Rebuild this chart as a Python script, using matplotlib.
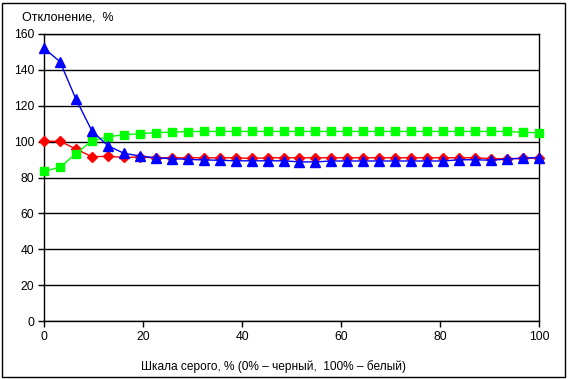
import numpy as np
import matplotlib
matplotlib.use("Agg")
import matplotlib.pyplot as plt

plt.rcParams['font.family'] = ['Liberation Sans', 'DejaVu Sans']

# шкала серого, 32 точки от 0 до 100 %
gray = np.linspace(0, 100, 32)

red_vals = [100.2, 100.2, 95.9, 91.6, 91.8, 91.2, 91.4, 91.0, 91.0, 91.0, 91.0,
            91.0, 91.0, 90.6, 91.0, 91.0, 91.0, 91.0, 91.0, 91.0, 91.0, 91.0,
            91.0, 91.0, 91.0, 91.0, 91.0, 91.0, 90.5, 90.5, 90.6, 90.9]
green_vals = [83.5, 85.7, 93.3, 100.5, 102.7, 103.8, 104.4, 105.0, 105.3, 105.6, 105.7,
              105.7, 105.7, 105.7, 105.7, 105.7, 105.7, 105.7, 105.7, 105.7, 105.7, 105.7,
              105.7, 105.7, 105.7, 105.7, 105.7, 105.7, 105.7, 105.7, 105.2, 104.9]
blue_vals = [152.0, 144.6, 123.7, 106.0, 97.7, 93.5, 92.0, 91.0, 90.5, 90.1, 89.8,
             89.6, 89.3, 89.3, 89.3, 89.3, 88.7, 88.7, 89.2, 89.2, 89.2, 89.2,
             89.2, 89.2, 89.2, 89.2, 89.9, 89.9, 89.6, 90.3, 90.8, 91.1]

fig = plt.figure(figsize=(5.68, 3.79), dpi=100)
ax = fig.add_axes([44 / 568, 1 - 321 / 379, 495 / 568, 287 / 379])

ax.plot(gray, red_vals, color='#ff0000', lw=1, marker='D', ms=5,
        mec='#ff0000', mfc='#ff0000', clip_on=False, zorder=3)
ax.plot(gray, green_vals, color='#00ff00', lw=1, marker='s', ms=6,
        mec='#00ff00', mfc='#00ff00', clip_on=False, zorder=4)
ax.plot(gray, blue_vals, color='#0000ff', lw=1, marker='^', ms=7,
        mec='#0000ff', mfc='#0000ff', clip_on=False, zorder=5)

ax.set_xlim(0, 100)
ax.set_ylim(0, 160)
ax.set_xticks(np.arange(0, 101, 20))
ax.set_yticks(np.arange(0, 161, 20))
ax.yaxis.grid(True, color='black', lw=1)
ax.set_axisbelow(True)
for s in ax.spines.values():
    s.set_color('black')
    s.set_linewidth(1)
ax.tick_params(direction='out', length=4, width=1, labelsize=8.7, colors='black', pad=3)

ax.set_xlabel('Шкала серого, % (0% – черный,  100% – белый)', fontsize=8.6)
ax.xaxis.set_label_coords(0.4636, -0.135)
fig.text(22 / 568, 1 - 17 / 379, 'Отклонение,  %', fontsize=9, va='center', ha='left')

# рамка вокруг всей диаграммы
fig.add_artist(plt.Rectangle((2 / 568, 2 / 379), 563 / 568, 374 / 379,
                             transform=fig.transFigure, fill=False, ec='black', lw=1))

fig.savefig('out.png', dpi=100)
